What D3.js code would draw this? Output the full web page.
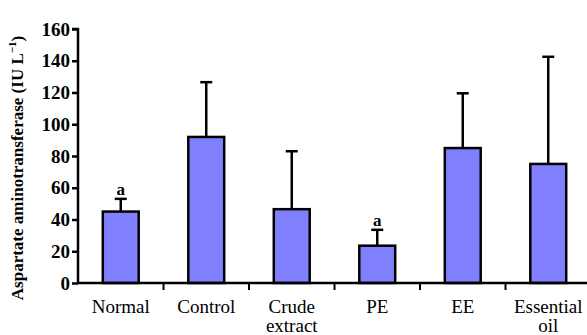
<!DOCTYPE html>
<html>
<head>
<meta charset="utf-8">
<script src="https://cdn.jsdelivr.net/npm/d3@7"></script>
<style>
  body { margin: 0; background: #fff; }
</style>
</head>
<body>
<div id="chart"></div>
<script>
// dati
const categories = ["Normal", "Control", "Crude extract", "PE", "EE", "Essential oil"];
const labelLines = [["Normal"], ["Control"], ["Crude", "extract"], ["PE"], ["EE"], ["Essential", "oil"]];
const means = [45, 92, 46.5, 23.5, 85, 75];
const errors = [8, 34.5, 36.5, 10, 34.5, 67.5];
const marks = ["a", "", "", "a", "", ""];
const yTicks = [0, 20, 40, 60, 80, 100, 120, 140, 160];

const serif = "'Liberation Serif', 'Times New Roman', serif";
const width = 587, height = 335;
const margin = { top: 29, right: -4, bottom: 52, left: 78 };

const svg = d3.select("#chart").append("svg")
    .attr("width", width)
    .attr("height", height)
    .style("font-family", serif);

const x = d3.scaleBand()
    .domain(categories)
    .range([margin.left, width - margin.right])
    .paddingInner(0.58)
    .paddingOuter(0.29);

const y = d3.scaleLinear()
    .domain([0, 160])
    .range([height - margin.bottom, margin.top]);

// barre
svg.append("g")
    .selectAll("rect")
    .data(categories)
    .join("rect")
    .attr("x", d => x(d))
    .attr("y", (d, i) => y(means[i]))
    .attr("width", x.bandwidth())
    .attr("height", (d, i) => y(0) - y(means[i]))
    .attr("fill", "#8080ff")
    .attr("stroke", "#000")
    .attr("stroke-width", 2.5);

// barre di errore (solo verso l'alto)
const err = svg.append("g").attr("stroke", "#000").attr("stroke-width", 2.5);
categories.forEach((c, i) => {
    const cx = x(c) + x.bandwidth() / 2;
    err.append("line")
        .attr("x1", cx).attr("x2", cx)
        .attr("y1", y(means[i])).attr("y2", y(means[i] + errors[i]));
    err.append("line")
        .attr("x1", cx - 6).attr("x2", cx + 6)
        .attr("y1", y(means[i] + errors[i])).attr("y2", y(means[i] + errors[i]));
    if (marks[i]) {
        svg.append("text")
            .attr("x", cx)
            .attr("y", y(means[i] + errors[i]) - 4)
            .attr("text-anchor", "middle")
            .style("font-family", serif)
            .attr("font-size", 17)
            .attr("font-weight", "bold")
            .text(marks[i]);
    }
});

// asse y
const yAxis = svg.append("g")
    .attr("transform", `translate(${margin.left},0)`)
    .call(d3.axisLeft(y).tickValues(yTicks).tickSize(6).tickPadding(2))
    .attr("font-family", null);
yAxis.select(".domain").attr("stroke-width", 2.5).attr("d", `M-6,${y(160)}H0V${y(0)}`);
yAxis.selectAll(".tick line").attr("stroke-width", 2.5);
yAxis.selectAll(".tick text")
    .style("font-family", serif)
    .attr("font-size", 19)
    .attr("font-weight", "bold")
    .attr("fill", "#000");

// asse x
const x0 = y(0);
svg.append("line")
    .attr("x1", margin.left).attr("x2", width)
    .attr("y1", x0).attr("y2", x0)
    .attr("stroke", "#000")
    .attr("stroke-width", 2.5);

svg.append("g")
    .selectAll("line")
    .data(categories.slice(1))
    .join("line")
    .attr("x1", d => x(d) - x.bandwidth() * 0.69)
    .attr("x2", d => x(d) - x.bandwidth() * 0.69)
    .attr("y1", x0)
    .attr("y2", x0 + 7)
    .attr("stroke", "#000")
    .attr("stroke-width", 2);

// etichette categorie
const lab = svg.append("g")
    .attr("font-size", 19)
    .attr("text-anchor", "middle");
categories.forEach((c, i) => {
    const t = lab.append("text")
        .style("font-family", serif)
        .attr("x", x(c) + x.bandwidth() / 2)
        .attr("y", x0 + 30);
    labelLines[i].forEach((line, j) => {
        t.append("tspan")
            .attr("x", x(c) + x.bandwidth() / 2)
            .attr("dy", j === 0 ? 0 : 19)
            .text(line);
    });
});

// titolo asse y
const yt = svg.append("text")
    .attr("transform", `translate(23,${(y(0) + y(160)) / 2 + 12}) rotate(-90)`)
    .attr("text-anchor", "middle")
    .style("font-family", serif)
    .attr("font-size", 17)
    .attr("font-weight", "bold");
yt.append("tspan").text("Aspartate aminotransferase (IU L");
yt.append("tspan").attr("dy", -7).attr("font-size", 11).text("−1");
yt.append("tspan").attr("dy", 7).text(")");
</script>
</body>
</html>
